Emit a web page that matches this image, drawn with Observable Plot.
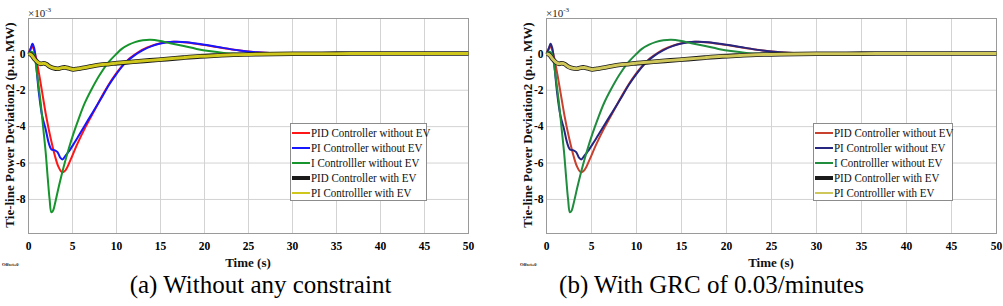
<!DOCTYPE html>
<html><head><meta charset="utf-8">
<script src="https://cdn.jsdelivr.net/npm/d3@7"></script>
<script src="https://cdn.jsdelivr.net/npm/@observablehq/plot@0.6"></script>
<style>
body{margin:0;background:#fff;}
#root{position:relative;width:1003px;height:306px;overflow:hidden;font-family:"Liberation Serif","Times New Roman",Tinos,"DejaVu Serif",serif;color:#111;}
#root svg{position:absolute;top:0;}
.abs{position:absolute;white-space:nowrap;}
.ylab{font-weight:bold;font-size:13px;line-height:13px;transform:translate(-50%,-50%) rotate(-90deg);}
.xlab{font-weight:bold;font-size:13px;line-height:13px;transform:translateX(-50%);}
.cap{font-size:25px;line-height:25px;transform:translateX(-50%);color:#000;}
.exp{font-size:11px;line-height:12px;color:#222;}
.exp sup{font-size:7px;vertical-align:5px;}
.off{font-size:4.5px;font-weight:bold;line-height:5px;}
.legend{position:absolute;border:1px solid #8c8c8c;background:#fff;box-sizing:border-box;}
.legend .row{position:absolute;left:1px;height:14px;display:flex;align-items:center;font-size:12.5px;white-space:nowrap;}
.legend .sw{display:inline-block;width:18px;margin-right:1px;}
.legend .tx{display:inline-block;transform:scaleX(0.88);transform-origin:left center;}
</style>
</head><body>
<div id="root"></div>
<script>
// ---------- data (values in units of 1e-3 p.u. MW) ----------
const xTicks = [0, 5, 10, 15, 20, 25, 30, 35, 40, 45, 50];
const yTicks = [0, -2, -4, -6, -8];

const seriesNames = ["PID Controller without EV", "PI Controller without EV", "I Controlller without EV", "PID Controller with EV", "PI Controlller with EV"];

const tPID = [0,0.2,0.4,0.6,0.85,1.2,1.55,2.0,2.5,3.0,3.4,3.8,4.2,4.8,5.5,6.5,7.5,8.5,9.5,10.5,11.5,12.5,13.5,15,16.5,18,20,22,24,26,28,30,35,40,50];
const pidNoEV = [0,0.25,0.42,0.25,-0.2,-1.1,-2.1,-3.4,-4.6,-5.6,-6.2,-6.5,-6.4,-5.8,-5.0,-4.0,-3.1,-2.2,-1.4,-0.75,-0.25,0.1,0.35,0.58,0.66,0.62,0.48,0.32,0.18,0.08,0.03,0.01,0,0,0];

const tPI = [0,0.2,0.45,0.65,0.85,1.17,1.55,1.93,2.3,2.6,3.0,3.3,3.6,3.85,4.2,4.6,5.2,5.7,6.5,7.2,8.2,9.1,10,11,12,13,14,15,16.5,18,20,22,24,26,28,30,35,50];
const piNoEV = [0,0.2,0.55,0.3,-0.5,-2.1,-3.4,-4.1,-4.9,-5.25,-5.3,-5.4,-5.7,-5.8,-5.6,-5.35,-4.9,-4.5,-3.85,-3.3,-2.5,-1.74,-1.1,-0.5,-0.1,0.2,0.42,0.57,0.66,0.64,0.5,0.34,0.18,0.08,0.03,0.01,0,0];

const tI = [0,0.3,0.55,0.75,1.0,1.36,1.7,1.95,2.2,2.4,2.6,2.8,3.0,3.44,4.0,4.58,5.1,5.7,6.4,7.2,8.1,9.1,10,10.6,11.4,12.1,13,13.85,15,16.1,17.5,19.1,20.5,22.2,24,26,30,50];
const iNoEV = [0,0.12,0.05,-0.3,-1.2,-2.6,-4.2,-5.4,-6.9,-8.0,-8.7,-8.6,-8.25,-7.3,-6.2,-5.2,-4.4,-3.57,-2.7,-1.92,-1.15,-0.46,0.0,0.27,0.5,0.64,0.74,0.77,0.70,0.58,0.44,0.27,0.15,0.05,0.01,0,0,0];

const tEV = [0,0.3,0.7,1.0,1.36,1.7,2.0,2.4,2.8,3.4,3.8,4.2,4.6,5.1,5.6,6.3,7.2,8.2,9.2,10.1,11.9,13.8,15.7,17.6,19.5,21.5,23.3,26,30,35,40,50];
const pidEV = [0,-0.05,-0.3,-0.45,-0.55,-0.52,-0.56,-0.7,-0.78,-0.82,-0.76,-0.75,-0.8,-0.86,-0.82,-0.77,-0.68,-0.6,-0.56,-0.51,-0.44,-0.36,-0.29,-0.21,-0.14,-0.09,-0.05,-0.02,0,0.01,0.02,0.02];
const piEV  = [0,-0.05,-0.3,-0.45,-0.55,-0.52,-0.56,-0.7,-0.78,-0.82,-0.76,-0.75,-0.8,-0.86,-0.82,-0.77,-0.68,-0.6,-0.56,-0.51,-0.44,-0.36,-0.29,-0.21,-0.14,-0.09,-0.05,-0.02,0,0.01,0.02,0.02];

const colorsA = ["#ff1616", "#1616ff", "#16952c", "#1a1a1a", "#cfc71c"];
const colorsB = ["#c8402e", "#262680", "#1f8c3e", "#1a1a1a", "#d0c75a"];
const captions = ["(a) Without any constraint", "(b) With GRC of 0.03/minutes"];
const yLabel = "Tie-line Power Deviation2 (p.u. MW)";
const xLabel = "Time (s)";

// ---------- drawing ----------
const root = document.getElementById("root");

function panel(left, width, mL, mR, colors) {
  const series = [[tPID, pidNoEV], [tPI, piNoEV], [tI, iNoEV], [tEV, pidEV], [tEV, piEV]];
  const widths = [2, 2, 2, 4.6, 3];
  const svg = Plot.plot({
    width, height: 270, marginLeft: mL, marginRight: mR, marginTop: 18, marginBottom: 37,
    style: {fontFamily: "'Liberation Serif', 'Times New Roman', Tinos, serif", fontSize: "11.5px", fontWeight: "bold", color: "#000", background: "transparent", overflow: "visible"},
    x: {domain: [0, 50]},
    y: {domain: [-9.87, 1.94]},
    marks: [
      Plot.gridX(xTicks, {stroke: "#d3d3d3", strokeOpacity: 1}),
      Plot.gridY(yTicks, {stroke: "#d3d3d3", strokeOpacity: 1}),
      Plot.frame({stroke: "#9a9a9a"}),
      Plot.axisX(xTicks, {tickSize: 0, tickPadding: 8, label: null, tickFormat: d => String(d)}),
      Plot.axisY(yTicks, {tickSize: 0, tickPadding: 3, label: null, tickFormat: d => String(d)}),
      ...series.map(([t, v], i) => Plot.line(v, {x: t, y: v, stroke: colors[i], strokeWidth: widths[i], strokeLinecap: "butt", curve: "catmull-rom"}))
    ]
  });
  svg.style.left = left + "px";
  root.appendChild(svg);
}

function addDiv(cls, x, y, html) {
  const d = document.createElement("div");
  d.className = "abs " + cls;
  d.style.left = x + "px"; d.style.top = y + "px";
  d.innerHTML = html;
  root.appendChild(d);
  return d;
}

function legend(x, y, w, h, colors) {
  const box = document.createElement("div");
  box.className = "legend";
  Object.assign(box.style, {left: x + "px", top: y + "px", width: w + "px", height: h + "px"});
  const lw = [2.5, 2.5, 2.5, 4, 2.5];
  seriesNames.forEach((n, i) => {
    const r = document.createElement("div");
    r.className = "row";
    r.style.top = (2 + i * 15) + "px";
    r.innerHTML = `<span class="sw" style="height:${lw[i]}px;background:${colors[i]}"></span><span class="tx">${n}</span>`;
    box.appendChild(r);
  });
  root.appendChild(box);
}

panel(0, 500, 28, 32, colorsA);
panel(500, 503, 46, 7, colorsB);

[[28, 468, 0], [546, 996, 500]].forEach(([x0, x1, off], k) => {
  addDiv("ylab", off + (k ? 27 : 9), 125, yLabel);
  addDiv("xlab", (x0 + x1) / 2, 256, xLabel);
  addDiv("exp", x0, 4, "×10<sup>-3</sup>");
  addDiv("off", off + (k ? 20 : 2), 262, "Offset=0");
});
legend(290, 123, 137, 78, colorsA);
legend(813, 123, 140, 78, colorsB);
addDiv("cap", 260.5, 272, captions[0]);
addDiv("cap", 711.5, 272, captions[1]);
</script>
</body></html>
